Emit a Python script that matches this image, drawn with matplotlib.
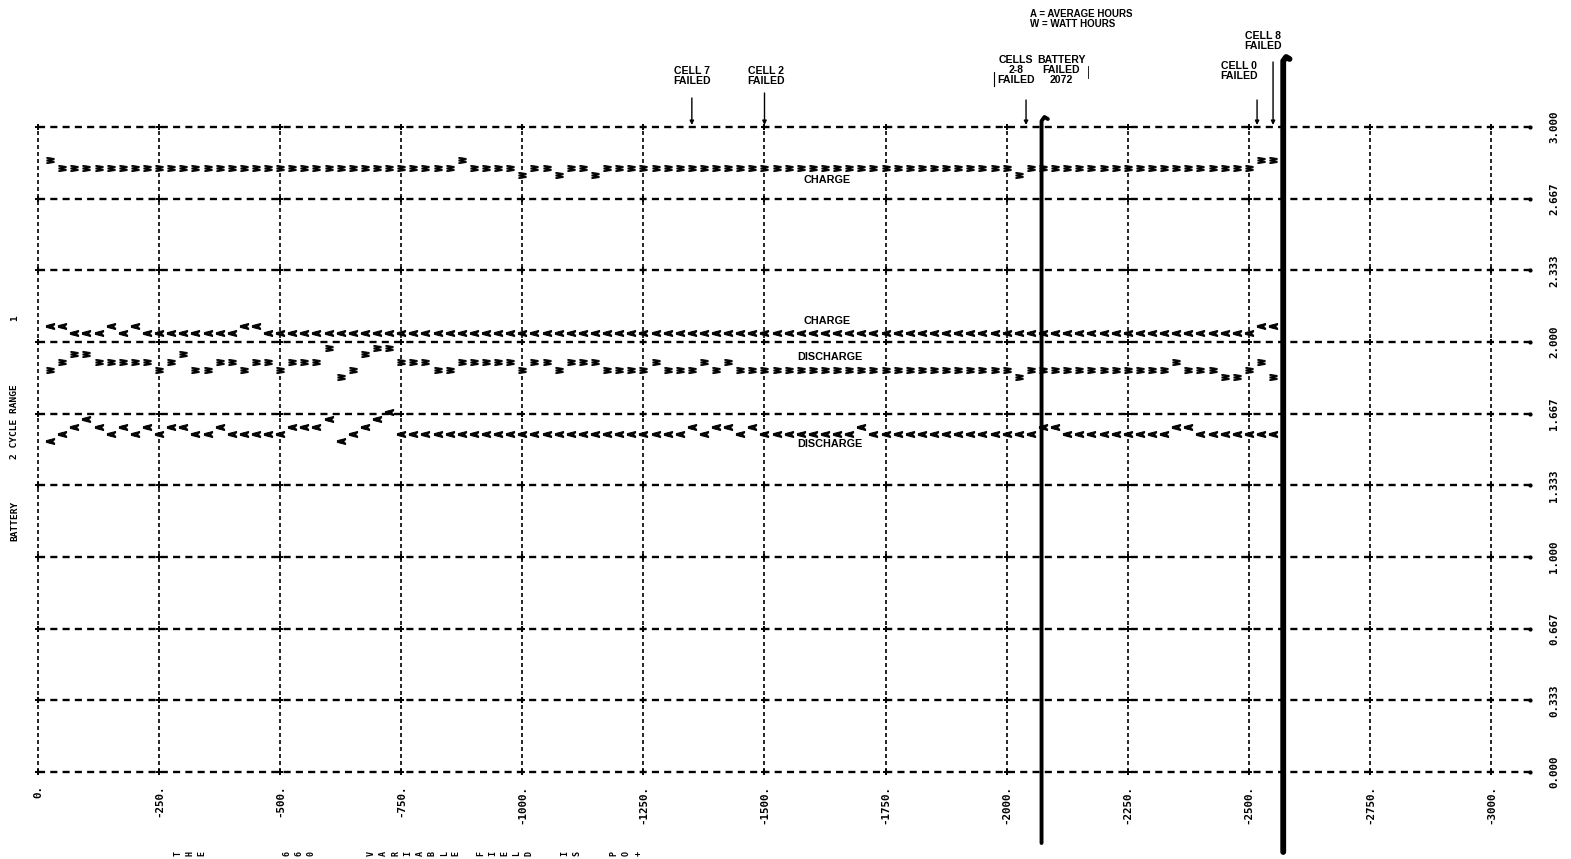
import matplotlib
matplotlib.use("Agg")
import matplotlib.pyplot as plt
import numpy as np
from matplotlib.markers import MarkerStyle
from matplotlib.transforms import Affine2D

# ---------------- data ----------------
cycles = np.arange(25, 2551, 25)          # one printed point every 25 cycles

charge_wh = [
    2.845, 2.81, 2.81, 2.81, 2.81, 2.81, 2.81, 2.81, 2.81, 2.81,
    2.81, 2.81, 2.81, 2.81, 2.81, 2.81, 2.81, 2.81, 2.81, 2.81,
    2.81, 2.81, 2.81, 2.81, 2.81, 2.81, 2.81, 2.81, 2.81, 2.81,
    2.81, 2.81, 2.81, 2.81, 2.845, 2.81, 2.81, 2.81, 2.81, 2.775,
    2.81, 2.81, 2.775, 2.81, 2.81, 2.775, 2.81, 2.81, 2.81, 2.81,
    2.81, 2.81, 2.81, 2.81, 2.81, 2.81, 2.81, 2.81, 2.81, 2.81,
    2.81, 2.81, 2.81, 2.81, 2.81, 2.81, 2.81, 2.81, 2.81, 2.81,
    2.81, 2.81, 2.81, 2.81, 2.81, 2.81, 2.81, 2.81, 2.81, 2.81,
    2.775, 2.81, 2.81, 2.81, 2.81, 2.81, 2.81, 2.81, 2.81, 2.81,
    2.81, 2.81, 2.81, 2.81, 2.81, 2.81, 2.81, 2.81, 2.81, 2.81,
    2.845, 2.845,
]

charge_ah = [
    2.075, 2.075, 2.04, 2.04, 2.04, 2.075, 2.04, 2.075, 2.04, 2.04,
    2.04, 2.04, 2.04, 2.04, 2.04, 2.04, 2.075, 2.075, 2.04, 2.04,
    2.04, 2.04, 2.04, 2.04, 2.04, 2.04, 2.04, 2.04, 2.04, 2.04,
    2.04, 2.04, 2.04, 2.04, 2.04, 2.04, 2.04, 2.04, 2.04, 2.04,
    2.04, 2.04, 2.04, 2.04, 2.04, 2.04, 2.04, 2.04, 2.04, 2.04,
    2.04, 2.04, 2.04, 2.04, 2.04, 2.04, 2.04, 2.04, 2.04, 2.04,
    2.04, 2.04, 2.04, 2.04, 2.04, 2.04, 2.04, 2.04, 2.04, 2.04,
    2.04, 2.04, 2.04, 2.04, 2.04, 2.04, 2.04, 2.04, 2.04, 2.04,
    2.04, 2.04, 2.04, 2.04, 2.04, 2.04, 2.04, 2.04, 2.04, 2.04,
    2.04, 2.04, 2.04, 2.04, 2.04, 2.04, 2.04, 2.04, 2.04, 2.04,
    2.075, 2.075,
]

discharge_wh = [
    1.87, 1.905, 1.945, 1.945, 1.905, 1.905, 1.905, 1.905, 1.905, 1.87,
    1.905, 1.945, 1.87, 1.87, 1.905, 1.905, 1.87, 1.905, 1.905, 1.87,
    1.905, 1.905, 1.905, 1.97, 1.835, 1.87, 1.945, 1.97, 1.97, 1.905,
    1.905, 1.905, 1.87, 1.87, 1.905, 1.905, 1.905, 1.905, 1.905, 1.87,
    1.905, 1.905, 1.87, 1.905, 1.905, 1.905, 1.87, 1.87, 1.87, 1.87,
    1.905, 1.87, 1.87, 1.87, 1.905, 1.87, 1.905, 1.87, 1.87, 1.87,
    1.87, 1.87, 1.87, 1.87, 1.87, 1.87, 1.87, 1.87, 1.87, 1.87,
    1.87, 1.87, 1.87, 1.87, 1.87, 1.87, 1.87, 1.87, 1.87, 1.87,
    1.835, 1.87, 1.87, 1.87, 1.87, 1.87, 1.87, 1.87, 1.87, 1.87,
    1.87, 1.87, 1.87, 1.905, 1.87, 1.87, 1.87, 1.835, 1.835, 1.87,
    1.905, 1.835,
]

discharge_ah = [
    1.54, 1.57, 1.605, 1.64, 1.605, 1.57, 1.605, 1.57, 1.605, 1.57,
    1.605, 1.605, 1.57, 1.57, 1.605, 1.57, 1.57, 1.57, 1.57, 1.57,
    1.605, 1.605, 1.605, 1.64, 1.54, 1.57, 1.605, 1.64, 1.675, 1.57,
    1.57, 1.57, 1.57, 1.57, 1.57, 1.57, 1.57, 1.57, 1.57, 1.57,
    1.57, 1.57, 1.57, 1.57, 1.57, 1.57, 1.57, 1.57, 1.57, 1.57,
    1.57, 1.57, 1.57, 1.605, 1.57, 1.605, 1.605, 1.57, 1.605, 1.57,
    1.57, 1.57, 1.57, 1.57, 1.57, 1.57, 1.57, 1.605, 1.57, 1.57,
    1.57, 1.57, 1.57, 1.57, 1.57, 1.57, 1.57, 1.57, 1.57, 1.57,
    1.57, 1.57, 1.605, 1.605, 1.57, 1.57, 1.57, 1.57, 1.57, 1.57,
    1.57, 1.57, 1.57, 1.605, 1.605, 1.57, 1.57, 1.57, 1.57, 1.57,
    1.57, 1.57,
]

x_ticks = [0, 250, 500, 750, 1000, 1250, 1500, 1750, 2000, 2250, 2500, 2750, 3000]
x_tick_labels = ["0.", "-250.", "-500.", "-750.", "-1000.", "-1250.", "-1500.",
                 "-1750.", "-2000.", "-2250.", "-2500.", "-2750.", "-3000."]
y_ticks = [0.0, 0.333, 0.667, 1.0, 1.333, 1.667, 2.0, 2.333, 2.667, 3.0]
y_tick_labels = ["0.000", "0.333", "0.667", "1.000", "1.333", "1.667",
                 "2.000", "2.333", "2.667", "3.000"]

failure_cycles = [2072, 2571]
event_cycles = [1350, 1500, 2040, 2517, 2550]
event_labels = ["CELL 7\nFAILED", "CELL 2\nFAILED", "CELLS\n2-8\nFAILED",
                "CELL 0\nFAILED", "CELL 8\nFAILED"]
bottom_text = "THE      660    VARIABLE FIELD  IS  PO+"

# ---------------- layout helpers ----------------
W, H, DPI = 1571, 859, 100
LPX, RPX, TPX, BPX = 38, 1530, 127, 772
PX_PER_CYCLE = (1491 - 38) / 3000.0
XMAX = (RPX - LPX) / PX_PER_CYCLE
PX_PER_UNIT = (BPX - TPX) / 3.0


def dx(px):
    return (px - LPX) / PX_PER_CYCLE


def dy(py):
    return 3.0 - (py - TPX) / PX_PER_UNIT


fig = plt.figure(figsize=(W / DPI, H / DPI), dpi=DPI)
fig.patch.set_facecolor("white")
ax = fig.add_axes([LPX / W, 1 - BPX / H, (RPX - LPX) / W, (BPX - TPX) / H])
ax.set_xlim(0, XMAX)
ax.set_ylim(0, 3)
for s in ax.spines.values():
    s.set_visible(False)

# dashed printer grid
for xv in x_ticks:
    ax.plot([xv, xv], [0, 3], color="black", lw=1.2, dashes=(2.4, 1.8),
            zorder=1, clip_on=False)
for yv in y_ticks:
    ax.plot([0, XMAX], [yv, yv], color="black", lw=1.7, dashes=(3.0, 2.2),
            zorder=1, clip_on=False)
gx, gy = np.meshgrid(x_ticks, y_ticks)
ax.plot(gx.ravel(), gy.ravel(), ls="none", marker="+", ms=5, mew=1.4,
        color="black", zorder=2, clip_on=False)
ax.plot([XMAX] * len(y_ticks), y_ticks, ls="none", marker="o", ms=2,
        color="black", clip_on=False)

# ticks
ax.set_xticks(x_ticks)
ax.set_xticklabels(x_tick_labels, rotation=90, fontfamily="DejaVu Sans Mono",
                   fontweight="bold", fontsize=7.8)
ax.tick_params(axis="x", length=0, pad=9)
ax.yaxis.tick_right()
ax.set_yticks(y_ticks)
ax.set_yticklabels(y_tick_labels, rotation=90, va="center",
                   fontfamily="DejaVu Sans Mono", fontweight="bold", fontsize=7.8)
ax.tick_params(axis="y", length=0, pad=14)

# printed characters as markers (rotated A and W)
mW = MarkerStyle(r"$\mathbf{W}$", transform=Affine2D().scale(0.6, 1.0).rotate_deg(90))
mA = MarkerStyle(r"$\mathbf{A}$", transform=Affine2D().scale(0.7, 1.0).rotate_deg(90))
ax.plot(cycles, charge_wh, ls="none", marker=mW, ms=7.5, mew=0.6, color="black", zorder=3)
ax.plot(cycles, charge_ah, ls="none", marker=mA, ms=6.2, mew=0.7, color="black", zorder=3)
ax.plot(cycles, discharge_wh, ls="none", marker=mW, ms=7.5, mew=0.6, color="black", zorder=3)
ax.plot(cycles, discharge_ah, ls="none", marker=mA, ms=6.2, mew=0.7, color="black", zorder=3)

lab = dict(fontfamily="Liberation Sans", fontweight="bold", fontsize=7.8,
           color="black", ha="center", va="center")
ax.text(dx(827), dy(180), "CHARGE", **lab)
ax.text(dx(827), dy(321), "CHARGE", **lab)
ax.text(dx(830), dy(357), "DISCHARGE", **lab)
ax.text(dx(830), dy(444), "DISCHARGE", **lab)

# thick failure lines with hooked tops
tops = [117, 57]
bottoms = [843, 852]
widths = [2.8, 4.2]
for c, t, b, w in zip(failure_cycles, tops, bottoms, widths):
    ax.plot([c, c, c + 6, c + 13], [dy(b), dy(t + 4), dy(t), dy(t + 2)],
            color="black", lw=w, solid_capstyle="round", solid_joinstyle="round",
            clip_on=False, zorder=4)

# event annotations
text_pos = [(692, 76), (766, 76), (1016, 70), (1239, 71), (1263, 41)]
arrow_top = [98, 93, 100, 100, 62]
for c, lbl, (tx, ty), at in zip(event_cycles, event_labels, text_pos, arrow_top):
    fig.text(tx / W, 1 - ty / H, lbl, ha="center", va="center",
             fontfamily="Liberation Sans", fontweight="bold", fontsize=7.6,
             linespacing=1.0)
    ax.annotate("", xy=(c, dy(125)), xytext=(c, dy(at)),
                arrowprops=dict(arrowstyle="-|>", color="black", lw=1.0,
                                mutation_scale=6, shrinkA=0, shrinkB=0),
                annotation_clip=False)

fig.text(1061 / W, 1 - 70 / H, "BATTERY\nFAILED\n2072", ha="center", va="center",
         fontfamily="Liberation Sans", fontweight="bold", fontsize=7.6, linespacing=1.0)
fig.add_artist(plt.Line2D([994 / W, 994 / W], [1 - 72 / H, 1 - 86 / H],
                          color="black", lw=0.8))
fig.add_artist(plt.Line2D([1088 / W, 1088 / W], [1 - 66 / H, 1 - 78 / H],
                          color="black", lw=0.6))
fig.text(1030 / W, 1 - 19 / H, "A = AVERAGE HOURS\nW = WATT HOURS", ha="left",
         va="center", fontfamily="Liberation Sans", fontweight="bold",
         fontsize=7, linespacing=1.0)

# left axis description
lft = dict(rotation=90, ha="center", va="center", fontfamily="DejaVu Sans Mono",
           fontweight="bold", fontsize=6.8)
fig.text(15 / W, 1 - 521 / H, "BATTERY", **lft)
fig.text(15 / W, 1 - 422 / H, "2 CYCLE RANGE", **lft)
fig.text(15 / W, 1 - 318 / H, "1", **lft)

# sideways printed footer
for i, ch in enumerate(bottom_text):
    if ch != " ":
        fig.text((178 + i * 12.1) / W, 1 - 853 / H, ch, rotation=90, ha="center",
                 va="center", fontfamily="DejaVu Sans Mono", fontweight="bold",
                 fontsize=6)

fig.savefig("out.png", dpi=DPI, facecolor="white")
